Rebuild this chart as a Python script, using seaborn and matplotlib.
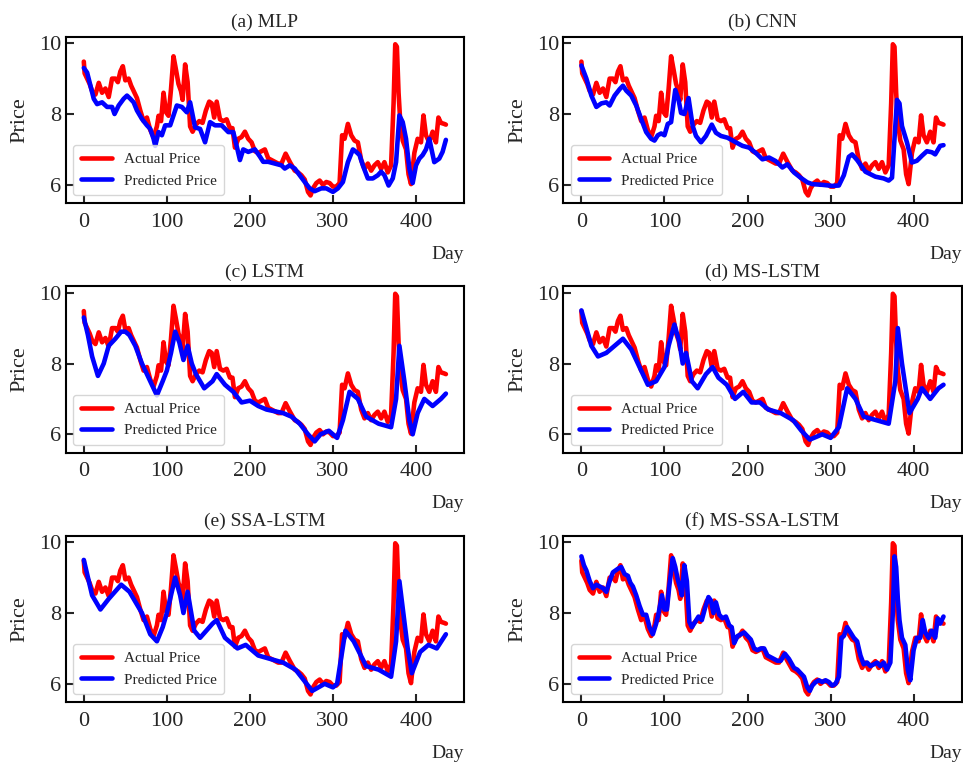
import matplotlib
matplotlib.use("Agg")
import matplotlib.pyplot as plt
import seaborn as sns
import pandas as pd

# ---------------- data ----------------
actual_days = [0, 1, 4, 7, 10, 14, 18, 22, 26, 30, 34, 38, 41, 44, 47, 50, 54, 57, 60, 64, 68, 72, 76, 80, 84, 88, 90, 93,
               96, 99, 102, 105, 108, 111, 114, 117, 119, 122, 125, 128, 131, 135, 139, 143, 147, 151, 154, 157, 160, 164,
               168, 172, 176, 179, 182, 186, 190, 194, 198, 202, 206, 210, 214, 218, 222, 226, 230, 234, 238, 243, 248,
               254, 258, 262, 266, 270, 273, 276, 280, 284, 288, 292, 296, 300, 304, 308, 311, 314, 318, 322, 326, 330,
               334, 338, 342, 346, 350, 354, 358, 362, 366, 370, 373, 375, 377, 379, 381, 384, 388, 391, 394, 398, 402,
               406, 409, 412, 416, 420, 424, 427, 430, 434, 436]
actual_price = [9.48, 9.15, 9.0, 8.85, 8.65, 8.55, 8.88, 8.6, 8.72, 8.48, 9.0, 9.0, 8.9, 9.2, 9.35, 8.95, 9.0, 8.8, 8.65,
                8.45, 8.1, 7.8, 7.9, 7.55, 7.35, 7.65, 7.95, 7.8, 8.6, 8.05, 7.95, 8.7, 9.63, 9.25, 8.85, 8.65, 8.4, 9.4,
                8.9, 7.65, 7.5, 7.7, 7.8, 7.75, 8.1, 8.35, 8.3, 7.9, 8.35, 7.85, 7.8, 7.85, 7.6, 7.6, 7.05, 7.3, 7.35,
                7.5, 7.3, 7.2, 6.95, 6.9, 6.95, 7.0, 6.75, 6.7, 6.65, 6.6, 6.6, 6.88, 6.65, 6.4, 6.35, 6.27, 6.15, 5.8,
                5.7, 5.9, 6.05, 6.12, 6.0, 6.08, 6.05, 5.95, 5.95, 6.05, 7.4, 7.3, 7.72, 7.4, 7.25, 7.2, 6.7, 6.45, 6.6,
                6.4, 6.55, 6.64, 6.45, 6.64, 6.35, 6.55, 8.3, 9.97, 9.9, 8.6, 7.8, 7.25, 7.0, 6.3, 6.02, 6.9, 7.3, 7.2,
                7.96, 7.4, 7.2, 7.5, 7.2, 7.9, 7.75, 7.72, 7.7]

mlp_days = [0, 4, 8, 12, 16, 22, 28, 34, 37, 42, 48, 52, 56, 60, 64, 70, 76, 80, 84, 86, 90, 94, 98, 104, 108, 112, 118,
            124, 128, 134, 140, 146, 152, 158, 166, 174, 180, 184, 188, 192, 198, 206, 212, 216, 222, 230, 238, 242, 248,
            254, 260, 266, 272, 278, 286, 292, 300, 306, 312, 318, 324, 328, 332, 336, 342, 348, 354, 358, 362, 367, 372,
            376, 380, 384, 388, 392, 396, 400, 404, 408, 412, 416, 422, 428, 432, 436]
mlp_pred = [9.3, 9.17, 8.8, 8.43, 8.28, 8.33, 8.2, 8.2, 8.0, 8.24, 8.43, 8.52, 8.43, 8.33, 8.1, 7.86, 7.68, 7.58, 7.3,
            7.1, 7.49, 7.4, 7.68, 7.68, 7.96, 8.24, 8.2, 8.05, 8.33, 7.62, 7.58, 7.2, 7.77, 7.68, 7.68, 7.49, 7.49, 7.1,
            6.7, 7.0, 6.93, 7.0, 6.8, 6.65, 6.65, 6.6, 6.55, 6.46, 6.55, 6.46, 6.27, 6.08, 5.9, 5.82, 5.9, 5.9, 5.8, 5.9,
            6.08, 6.64, 7.0, 6.93, 6.84, 6.55, 6.18, 6.18, 6.27, 6.37, 6.27, 5.98, 6.18, 6.64, 7.96, 7.77, 7.3, 6.46,
            6.05, 6.55, 6.74, 6.84, 7.0, 7.3, 6.64, 6.74, 6.93, 7.27]

cnn_days = [0, 6, 12, 18, 24, 30, 34, 40, 46, 50, 54, 60, 66, 72, 78, 84, 88, 92, 96, 100, 104, 108, 113, 117, 120, 124,
            129, 134, 138, 144, 150, 157, 162, 168, 176, 186, 194, 202, 210, 218, 226, 234, 242, 248, 256, 264, 272, 278,
            290, 302, 310, 316, 322, 326, 332, 342, 354, 364, 370, 374, 377, 380, 383, 386, 392, 398, 404, 410, 416, 422,
            426, 432, 436]
cnn_pred = [9.37, 9.0, 8.52, 8.2, 8.3, 8.33, 8.24, 8.52, 8.7, 8.8, 8.66, 8.52, 8.24, 7.86, 7.49, 7.3, 7.25, 7.4, 7.45,
            7.4, 7.72, 7.77, 8.68, 8.4, 8.03, 8.0, 8.45, 7.66, 7.38, 7.2, 7.38, 7.7, 7.47, 7.38, 7.33, 7.2, 7.1, 7.05,
            6.9, 6.72, 6.77, 6.67, 6.49, 6.58, 6.35, 6.2, 6.07, 6.02, 6.0, 5.97, 5.98, 6.27, 6.79, 6.86, 6.7, 6.37, 6.23,
            6.18, 6.12, 6.2, 7.3, 8.4, 8.3, 7.66, 7.2, 6.63, 6.68, 6.82, 6.95, 6.92, 6.86, 7.1, 7.12]

lstm_days = [0, 5, 10, 17, 24, 30, 38, 45, 50, 55, 62, 70, 80, 88, 95, 100, 105, 110, 115, 120, 125, 130, 135, 145, 155,
             160, 170, 180, 190, 200, 210, 220, 240, 250, 260, 270, 278, 285, 295, 305, 312, 320, 330, 340, 355, 370,
             376, 380, 386, 392, 396, 402, 410, 420, 430, 436]
lstm_pred = [9.3, 8.8, 8.2, 7.65, 8.0, 8.5, 8.7, 8.9, 8.9, 8.8, 8.5, 8.0, 7.5, 7.1, 7.5, 7.8, 8.3, 8.9, 8.6, 8.1, 8.5,
             8.0, 7.7, 7.3, 7.5, 7.7, 7.4, 7.2, 6.9, 6.95, 6.8, 6.7, 6.6, 6.5, 6.3, 6.0, 5.8, 6.0, 6.1, 5.9, 6.4, 7.2,
             7.0, 6.5, 6.3, 6.2, 7.0, 8.5, 7.5, 6.4, 6.0, 6.6, 7.0, 6.8, 7.0, 7.15]

mslstm_days = [0, 6, 12, 20, 30, 40, 50, 60, 70, 80, 90, 100, 105, 112, 118, 122, 126, 133, 140, 150, 158, 165, 175,
               185, 195, 205, 215, 225, 240, 255, 265, 275, 290, 300, 310, 320, 330, 340, 355, 370, 378, 381, 386, 395,
               405, 410, 420, 430, 436]
mslstm_pred = [9.5, 9.0, 8.5, 8.2, 8.3, 8.5, 8.7, 8.4, 7.9, 7.4, 7.5, 7.9, 8.5, 9.1, 8.6, 8.0, 8.3, 7.5, 7.3, 7.7, 7.9,
               7.6, 7.4, 7.0, 7.2, 6.9, 6.9, 6.7, 6.6, 6.4, 6.1, 5.85, 6.0, 5.9, 6.2, 7.3, 7.0, 6.5, 6.4, 6.3, 7.5, 9.0,
               8.0, 6.6, 7.0, 7.3, 7.0, 7.3, 7.4]

ssalstm_days = [0, 10, 20, 30, 45, 55, 70, 80, 88, 95, 100, 110, 116, 120, 125, 133, 140, 155, 160, 170, 185, 195, 210,
                225, 240, 255, 265, 275, 290, 300, 305, 315, 325, 340, 355, 370, 376, 380, 390, 395, 405, 415, 425, 436]
ssalstm_pred = [9.5, 8.5, 8.1, 8.4, 8.8, 8.6, 8.0, 7.4, 7.2, 7.6, 8.0, 9.0, 8.5, 8.0, 8.6, 7.5, 7.3, 7.7, 7.8, 7.3, 7.0,
                7.1, 6.8, 6.7, 6.6, 6.4, 6.1, 5.8, 6.0, 5.9, 6.0, 7.5, 7.2, 6.5, 6.4, 6.2, 7.2, 8.9, 7.0, 6.3, 6.9, 7.1,
                7.0, 7.4]

msssa_days = [0, 3, 6, 10, 14, 18, 22, 26, 30, 34, 38, 41, 44, 48, 52, 56, 59, 62, 66, 70, 74, 78, 82, 86, 90, 93, 97,
              100, 103, 106, 110, 113, 116, 119, 121, 124, 127, 130, 133, 137, 141, 145, 149, 153, 156, 159, 162, 166,
              170, 174, 178, 181, 184, 188, 192, 196, 200, 204, 208, 212, 216, 220, 224, 228, 232, 236, 240, 245, 250,
              256, 260, 264, 268, 272, 275, 278, 282, 286, 290, 294, 298, 302, 306, 310, 313, 316, 320, 324, 328, 332,
              336, 340, 344, 348, 352, 356, 360, 364, 368, 372, 375, 377, 379, 381, 383, 386, 390, 393, 396, 400, 404,
              408, 411, 414, 418, 422, 426, 429, 432, 436]
msssa_pred = [9.6, 9.35, 9.2, 8.9, 8.7, 8.8, 8.75, 8.7, 8.6, 8.9, 9.15, 9.2, 9.25, 9.3, 9.1, 9.05, 8.85, 8.75, 8.5, 8.2,
              7.95, 7.95, 7.6, 7.4, 7.7, 8.0, 8.5, 8.1, 8.1, 8.8, 9.55, 9.3, 8.95, 8.7, 8.5, 9.35, 8.9, 7.75, 7.6, 7.75,
              7.9, 7.8, 8.15, 8.45, 8.35, 8.0, 8.3, 7.95, 7.85, 7.9, 7.65, 7.6, 7.15, 7.35, 7.4, 7.45, 7.35, 7.25, 7.0,
              6.95, 7.0, 7.0, 6.8, 6.75, 6.7, 6.65, 6.65, 6.85, 6.7, 6.45, 6.4, 6.3, 6.2, 5.9, 5.8, 5.95, 6.05, 6.1,
              6.05, 6.1, 6.05, 5.95, 6.0, 6.2, 7.3, 7.35, 7.6, 7.45, 7.3, 7.2, 6.8, 6.55, 6.6, 6.5, 6.55, 6.6, 6.5, 6.6,
              6.4, 6.6, 8.0, 9.6, 9.3, 8.4, 7.8, 7.3, 7.1, 6.4, 6.1, 6.95, 7.3, 7.3, 7.8, 7.45, 7.3, 7.5, 7.3, 7.85,
              7.7, 7.9]

panel_titles = ["(a) MLP", "(b) CNN", "(c) LSTM", "(d) MS-LSTM", "(e) SSA-LSTM", "(f) MS-SSA-LSTM"]
pred_sets = [(mlp_days, mlp_pred), (cnn_days, cnn_pred), (lstm_days, lstm_pred),
             (mslstm_days, mslstm_pred), (ssalstm_days, ssalstm_pred), (msssa_days, msssa_pred)]
x_ticks = [0, 100, 200, 300, 400]
y_ticks = [6, 8, 10]

# ---------------- style ----------------
sns.set_style("ticks")
plt.rcParams['font.family'] = ['Liberation Serif', 'DejaVu Serif']
plt.rcParams['axes.linewidth'] = 1.5

W, H = 963, 764
fig = plt.figure(figsize=(W / 100, H / 100), dpi=100)

ax_w = 398.3 / W
ax_h = 166.3 / H
lefts = [65.7 / W, 563.3 / W]
bottoms = [1 - 203 / H, 1 - 452.5 / H, 1 - 702 / H]

actual_df = pd.DataFrame({"Day": actual_days, "Price": actual_price})

for i, (title, (pd_days, pd_vals)) in enumerate(zip(panel_titles, pred_sets)):
    r, c = divmod(i, 2)
    ax = fig.add_axes([lefts[c], bottoms[r], ax_w, ax_h])
    pred_df = pd.DataFrame({"Day": pd_days, "Price": pd_vals})
    sns.lineplot(data=actual_df, x="Day", y="Price", color="#ff0000", linewidth=3.3,
                 label="Actual Price", ax=ax)
    sns.lineplot(data=pred_df, x="Day", y="Price", color="#0000ff", linewidth=3.3,
                 label="Predicted Price", ax=ax)
    ax.set_title(title, fontsize=14, pad=7)
    ax.set_xticks(x_ticks)
    ax.set_yticks(y_ticks)
    ax.tick_params(direction="in", length=6, width=1.5, labelsize=16)
    ax.tick_params(axis="x", pad=7)
    ax.tick_params(axis="y", pad=3)
    ax.set_ylabel("Price", fontsize=16, labelpad=7)
    ax.set_xlabel("Day", fontsize=14, loc="right", labelpad=10)
    for sp in ax.spines.values():
        sp.set_linewidth(1.5)
        sp.set_color("black")
    leg = ax.legend(loc="lower left", fontsize=11, frameon=True, fancybox=True,
                    borderpad=0.5, handlelength=2.0)
    leg.get_frame().set_edgecolor("#cccccc")
    leg.get_frame().set_linewidth(1.0)
    for ln in leg.get_lines():
        ln.set_linewidth(3.3)

fig.savefig("out.png", dpi=100)
